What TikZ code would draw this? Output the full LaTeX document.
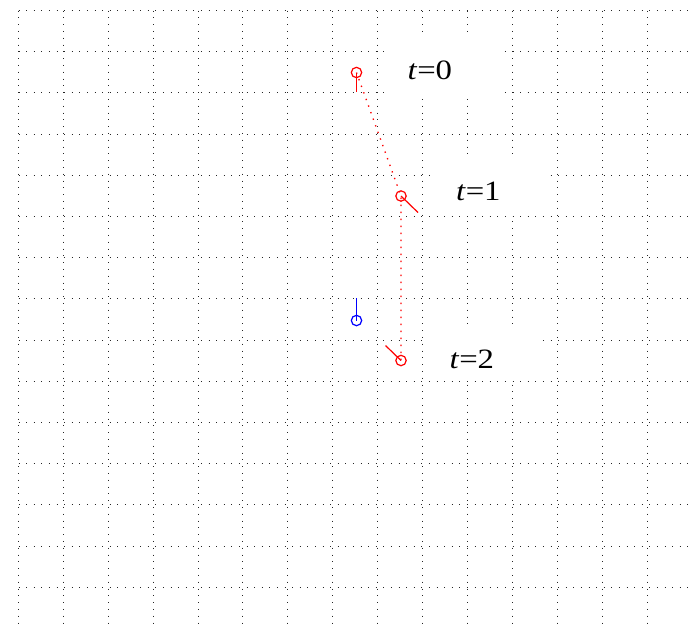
\documentclass[tikz,border=0pt]{standalone}
\usepackage{fontspec}
\setmainfont{Liberation Serif}
\begin{document}
\begin{tikzpicture}[x=0.75pt,y=-0.75pt,
  vgrid/.style={line width=0.75pt, black!85, dash pattern=on 0.75pt off 4.35pt},
  hgrid/.style={line width=0.75pt, black!85, dash pattern=on 0.75pt off 4.95pt},
  labelbox/.style={fill=white, draw=none, minimum width=84pt, minimum height=43pt, inner sep=0pt, outer sep=0pt},
  lbl/.style={inner sep=0pt, outer sep=0pt, anchor=base west, font=\fontsize{21}{25}\selectfont},
  redmark/.style={circle, draw=red, line width=0.9pt, minimum size=7.8pt, inner sep=0pt},
  bluemark/.style={circle, draw=blue, line width=0.9pt, minimum size=7.8pt, inner sep=0pt},
  redhead/.style={draw=red, line width=0.9pt},
  bluehead/.style={draw=blue, line width=0.9pt},
  traj/.style={draw=red, line width=1pt, dash pattern=on 1pt off 4.25pt}]
\path[use as bounding box] (0,0) rectangle (689,626);
% grid
\begin{scope}
\clip (0,0) rectangle (689,626);
\foreach \i in {0,...,14}{
  \pgfmathsetmacro{\gx}{round(18+44.9*\i)+0.5}
  \draw[vgrid] (\gx,10.5) -- (\gx,626);}
\foreach \j in {0,...,14}{
  \pgfmathsetmacro{\gy}{round(10+41.2*\j)+0.5}
  \draw[hgrid] (18.5,\gy) -- (689,\gy);}
\end{scope}
% white label boxes
\node[labelbox] (b0) at (445,66) {};
\node[labelbox] (b1) at (491,187) {};
\node[labelbox] (b2) at (483,352.5) {};
% positions
\node[redmark] (p0) at (356.5,72.5) {};
\node[redmark] (p1) at (401,196) {};
\node[redmark] (p2) at (401,360.5) {};
\node[bluemark] (q) at (356.5,320.5) {};
\coordinate (h0) at (356.5,92);
\coordinate (h1) at (418,212.5);
\coordinate (h2) at (385.5,345.5);
\coordinate (hq) at (356.5,297.5);
% trajectory
\draw[traj] (p0.center) -- (p1.center) -- (p2.center);
% headings
\draw[redhead] (p0.center) -- (h0);
\draw[redhead] (p1.center) -- (h1);
\draw[redhead] (p2.center) -- (h2);
\draw[bluehead] (q.center) -- (hq);
% labels
\node[lbl] (l0) at (407.5,79.5) {\scalebox{1.17}[1]{\textit{t}=0}};
\node[lbl] (l1) at (456,200) {\scalebox{1.17}[1]{\textit{t}=1}};
\node[lbl] (l2) at (449.5,368.5) {\scalebox{1.17}[1]{\textit{t}=2}};
\end{tikzpicture}
\end{document}
